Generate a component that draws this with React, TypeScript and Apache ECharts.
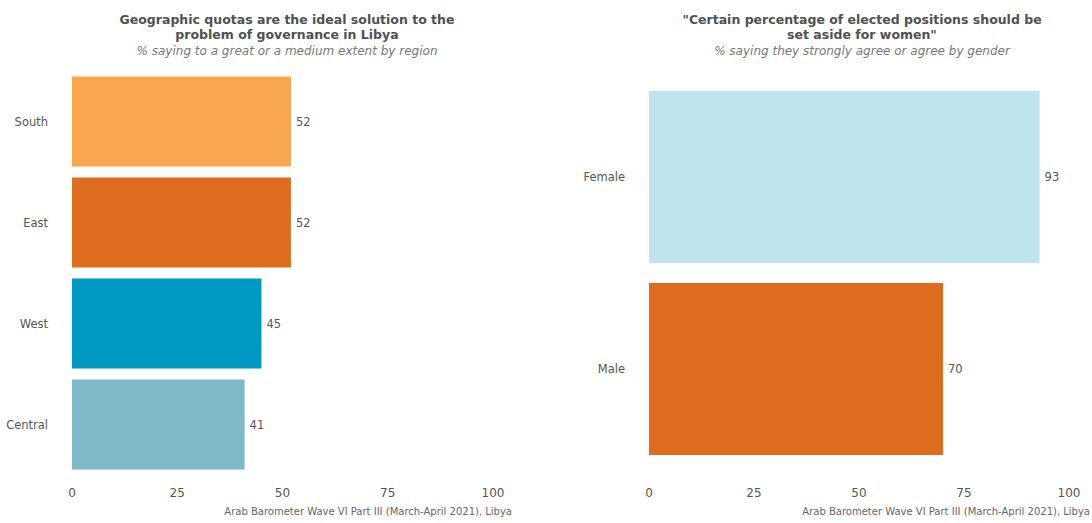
import React, { useEffect, useRef } from "react";
import * as echarts from "echarts";

const regions = ["Central", "West", "East", "South"];
const regionValues = [41, 45, 52, 52];
const regionColors = ["#7FB9C8", "#0099C1", "#DE6C1F", "#F9A74F"];

const genders = ["Male", "Female"];
const genderValues = [70, 93];
const genderColors = ["#DE6C1F", "#C0E4EE"];

const xTicks = [0, 25, 50, 75, 100];

const leftTitle = "Geographic quotas are the ideal solution to the\nproblem of governance in Libya";
const leftSub = "% saying to a great or a medium extent by region";
const rightTitle = "\"Certain percentage of elected positions should be\nset aside for women\"";
const rightSub = "% saying they strongly agree or agree by gender";
const caption = "Arab Barometer Wave VI Part III (March-April 2021), Libya";

const FONT = "'DejaVu Sans', 'Noto Sans', sans-serif";

export default function App() {
  const ref = useRef<HTMLDivElement>(null);
  useEffect(() => {
    if (!ref.current) return;
    const chart = echarts.init(ref.current, undefined, { renderer: "svg" });
    const xAxisBase = (gridIndex: number, margin: number) => ({
      type: "value",
      gridIndex,
      min: 0,
      max: 100,
      interval: 25,
      axisLine: { show: false },
      axisTick: { show: false },
      splitLine: { show: false },
      axisLabel: {
        color: "#555",
        fontSize: 12,
        fontFamily: FONT,
        margin,
        formatter: (v: number) => (xTicks.includes(v) ? String(v) : ""),
      },
    });
    const yAxisBase = (gridIndex: number, data: string[]) => ({
      type: "category",
      gridIndex,
      data,
      axisLine: { show: false },
      axisTick: { show: false },
      splitLine: { show: false },
      axisLabel: { color: "#555", fontSize: 11.5, fontFamily: FONT, margin: 24 },
    });
    const labelCfg = {
      show: true,
      position: "right",
      distance: 5,
      color: "#555",
      fontSize: 11.5,
      fontFamily: FONT,
    };
    const titleStyle = { color: "#505050", fontSize: 12.5, fontWeight: "bold", fontFamily: FONT, lineHeight: 15 };
    const subStyle = { color: "#777", fontSize: 12, fontStyle: "italic", fontFamily: FONT, lineHeight: 14 };
    chart.setOption({
      animation: false,
      backgroundColor: "#fff",
      title: [
        {
          text: leftTitle,
          subtext: leftSub,
          left: 282,
          top: 7,
          textAlign: "center",
          itemGap: 2,
          textStyle: titleStyle,
          subtextStyle: subStyle,
        },
        {
          text: rightTitle,
          subtext: rightSub,
          left: 857,
          top: 7,
          textAlign: "center",
          itemGap: 2,
          textStyle: titleStyle,
          subtextStyle: subStyle,
        },
      ],
      graphic: [
        {
          type: "text",
          right: 580,
          top: 506,
          style: { text: caption, fill: "#666", fontSize: 10, fontFamily: FONT, textAlign: "right" },
        },
        {
          type: "text",
          right: 2,
          top: 506,
          style: { text: caption, fill: "#666", fontSize: 10, fontFamily: FONT, textAlign: "right" },
        },
      ],
      grid: [
        { left: 72, right: 599, top: 71, bottom: 48 },
        { left: 649, right: 23, top: 81, bottom: 58 },
      ],
      xAxis: [xAxisBase(0, 12), xAxisBase(1, 22)],
      yAxis: [yAxisBase(0, regions), yAxisBase(1, genders)],
      series: [
        {
          type: "bar",
          xAxisIndex: 0,
          yAxisIndex: 0,
          barCategoryGap: "10.9%",
          data: regionValues.map((v, i) => ({ value: v, itemStyle: { color: regionColors[i] } })),
          label: labelCfg,
        },
        {
          type: "bar",
          xAxisIndex: 1,
          yAxisIndex: 1,
          barCategoryGap: "10.4%",
          data: genderValues.map((v, i) => ({ value: v, itemStyle: { color: genderColors[i] } })),
          label: labelCfg,
        },
      ],
    });
    return () => chart.dispose();
  }, []);
  return (
    <div
      ref={ref}
      style={{ position: "fixed", left: 0, top: 0, width: 1092, height: 523 }}
    />
  );
}
